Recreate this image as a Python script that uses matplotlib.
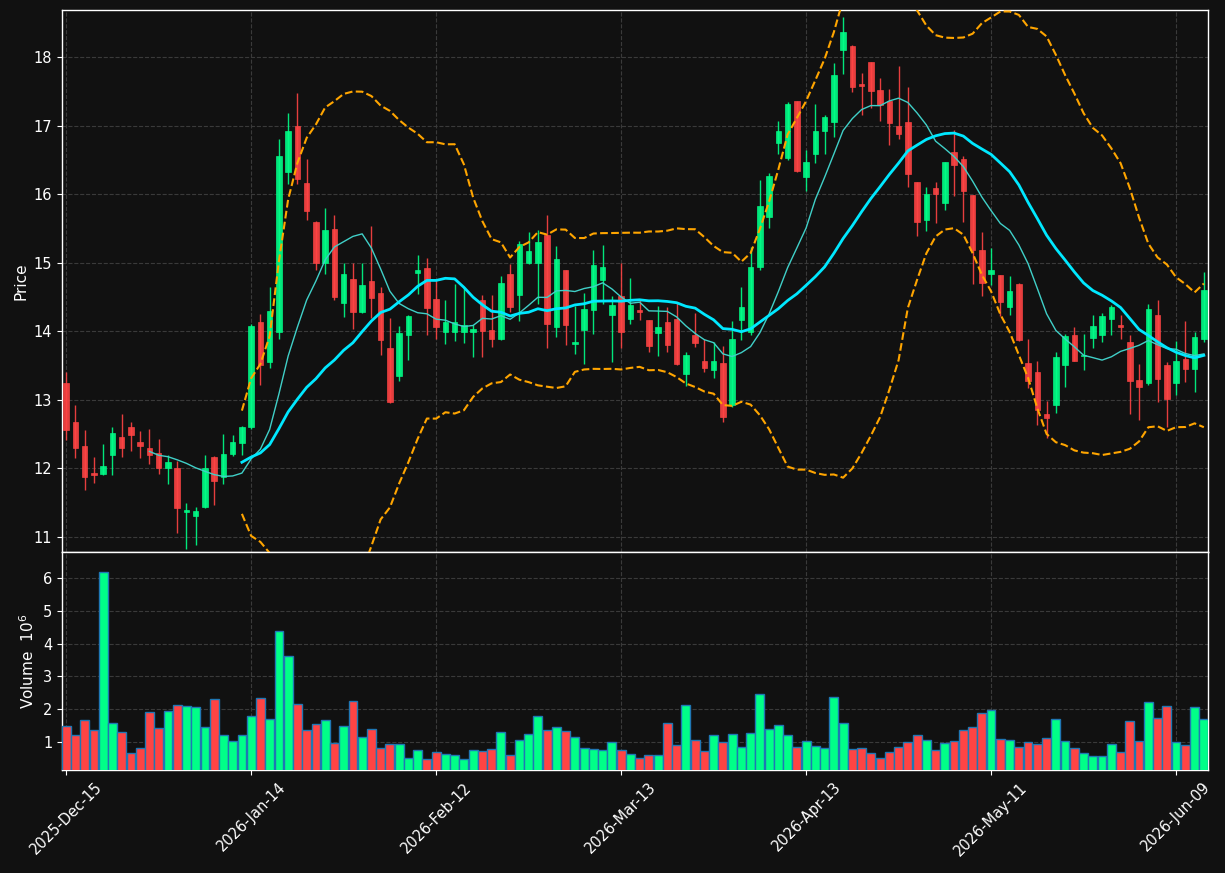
import numpy as np
import pandas as pd
import matplotlib
matplotlib.use("Agg")
import matplotlib.pyplot as plt
from matplotlib.patches import Rectangle

# ---------------- data ----------------
holidays = ["2025-12-25", "2026-01-01", "2026-01-19", "2026-02-16", "2026-04-03", "2026-05-25"]
dates = pd.bdate_range("2025-12-15", "2026-06-12", freq="C", holidays=holidays)

opens = [13.25, 12.67, 12.32, 11.93, 11.92, 12.19, 12.45, 12.61, 12.39, 12.29,
         12.23, 12.01, 12.01, 11.36, 11.30, 11.44, 12.17, 11.87, 12.21, 12.37,
         12.60, 14.13, 13.55, 13.99, 16.32, 17.00, 16.16, 15.60, 14.99, 15.49,
         14.41, 14.76, 14.28, 14.73, 14.56, 13.76, 13.35, 13.94, 14.85, 14.92,
         14.47, 13.99, 13.99, 13.99, 13.99, 14.46, 14.02, 13.88, 14.84, 14.53,
         14.99, 14.99, 15.41, 14.06, 14.89, 13.81, 14.02, 14.31, 14.75, 14.23,
         14.51, 14.18, 14.31, 14.16, 13.97, 14.13, 14.18, 13.37, 13.94, 13.57,
         13.43, 13.54, 12.92, 14.16, 13.99, 14.93, 15.66, 16.74, 16.53, 17.36,
         16.25, 16.59, 16.92, 17.05, 18.10, 18.16, 17.60, 17.92, 17.52, 17.36,
         16.99, 17.05, 16.17, 15.62, 16.09, 15.87, 16.61, 16.51, 15.98, 15.19,
         14.83, 14.82, 14.36, 14.69, 13.54, 13.41, 12.80, 12.92, 13.51, 13.95,
         13.64, 13.90, 13.94, 14.18, 14.09, 13.85, 13.29, 13.24, 14.24, 13.51,
         13.24, 13.59, 13.45, 13.88]
highs = [13.41, 12.92, 12.56, 12.17, 12.36, 12.60, 12.80, 12.68, 12.55, 12.58,
         12.43, 12.19, 12.11, 11.49, 11.43, 12.20, 12.18, 12.50, 12.48, 12.62,
         14.10, 14.25, 14.65, 16.80, 17.19, 17.48, 16.51, 15.61, 15.79, 15.70,
         14.99, 14.99, 14.99, 15.53, 14.65, 14.19, 14.08, 14.23, 15.11, 15.07,
         14.75, 14.45, 14.69, 14.64, 14.09, 14.53, 14.53, 14.81, 14.98, 15.32,
         15.45, 15.48, 15.70, 15.25, 14.89, 14.37, 14.56, 15.18, 15.26, 14.51,
         14.99, 14.78, 14.45, 14.17, 14.37, 14.36, 14.41, 13.70, 14.27, 13.89,
         13.84, 13.79, 14.15, 14.65, 15.23, 16.20, 16.31, 17.06, 17.35, 17.36,
         16.65, 17.32, 17.16, 17.91, 18.59, 18.18, 17.76, 17.93, 17.69, 17.53,
         17.87, 17.56, 16.17, 16.11, 16.18, 16.47, 16.93, 16.55, 15.98, 15.45,
         15.22, 14.82, 14.80, 14.70, 13.89, 13.56, 12.98, 13.70, 13.96, 14.06,
         13.96, 14.24, 14.27, 14.38, 14.23, 13.94, 13.52, 14.40, 14.46, 13.55,
         13.86, 14.15, 13.99, 14.87]
lows = [12.42, 12.15, 11.68, 11.78, 11.90, 11.91, 12.16, 12.25, 12.15, 12.06,
        11.92, 11.77, 11.06, 10.82, 10.88, 11.42, 11.47, 11.77, 12.18, 12.19,
        12.58, 13.22, 13.46, 13.89, 16.15, 16.15, 15.62, 14.90, 14.83, 14.46,
        14.21, 14.03, 14.27, 14.19, 13.66, 12.95, 13.27, 13.58, 14.55, 13.95,
        13.89, 13.81, 13.86, 13.83, 13.62, 13.62, 13.77, 13.87, 14.28, 14.15,
        14.98, 14.40, 13.75, 13.91, 13.80, 13.67, 13.52, 13.96, 14.40, 13.55,
        13.76, 14.10, 14.17, 13.69, 13.64, 13.69, 13.51, 13.20, 13.77, 13.41,
        13.32, 12.68, 12.90, 13.87, 13.94, 14.89, 15.51, 16.58, 16.49, 16.32,
        16.05, 16.46, 16.59, 16.84, 17.75, 17.49, 17.16, 17.26, 17.06, 16.72,
        16.81, 16.11, 15.39, 15.46, 15.58, 15.77, 15.97, 15.60, 14.69, 14.51,
        14.68, 14.22, 14.23, 13.86, 13.17, 12.63, 12.44, 12.81, 13.19, 13.56,
        13.43, 13.75, 13.85, 13.95, 13.89, 12.80, 12.70, 13.22, 12.97, 12.60,
        13.07, 13.26, 13.12, 13.84]
closes = [12.56, 12.30, 11.87, 11.91, 12.03, 12.51, 12.30, 12.48, 12.32, 12.19,
          12.00, 12.09, 11.42, 11.39, 11.38, 12.00, 11.82, 12.21, 12.39, 12.61,
          14.07, 13.51, 14.30, 16.55, 16.92, 16.22, 15.76, 14.99, 15.47, 14.50,
          14.84, 14.28, 14.67, 14.48, 13.87, 12.97, 13.98, 14.22, 14.89, 14.34,
          14.06, 14.13, 14.13, 14.09, 14.03, 14.01, 13.88, 14.71, 14.36, 15.27,
          15.17, 15.30, 14.11, 15.05, 14.09, 13.85, 14.32, 14.97, 14.93, 14.38,
          13.99, 14.38, 14.28, 13.78, 14.06, 13.80, 13.52, 13.66, 13.83, 13.46,
          13.56, 12.75, 13.89, 14.35, 14.94, 15.82, 16.27, 16.92, 17.31, 16.34,
          16.47, 16.92, 17.12, 17.74, 18.37, 17.56, 17.58, 17.50, 17.30, 17.03,
          16.87, 16.29, 15.59, 16.00, 16.00, 16.47, 16.42, 16.04, 15.18, 14.71,
          14.89, 14.42, 14.58, 13.87, 13.27, 12.85, 12.73, 13.62, 13.93, 13.57,
          13.66, 14.07, 14.22, 14.35, 14.06, 13.28, 13.19, 14.32, 13.31, 13.01,
          13.56, 13.45, 13.91, 14.60]
volumes = [1.48, 1.21, 1.67, 1.37, 6.18, 1.58, 1.31, 0.66, 0.82, 1.92,
           1.43, 1.95, 2.13, 2.10, 2.07, 1.46, 2.32, 1.21, 1.03, 1.21,
           1.80, 2.35, 1.71, 4.40, 3.61, 2.17, 1.37, 1.55, 1.67, 0.97,
           1.49, 2.26, 1.15, 1.40, 0.82, 0.94, 0.94, 0.51, 0.75, 0.48,
           0.69, 0.63, 0.60, 0.48, 0.75, 0.72, 0.79, 1.31, 0.60, 1.06,
           1.25, 1.80, 1.37, 1.46, 1.34, 1.15, 0.82, 0.79, 0.75, 1.00,
           0.75, 0.63, 0.51, 0.60, 0.60, 1.58, 0.91, 2.13, 1.06, 0.72,
           1.21, 1.00, 1.25, 0.85, 1.28, 2.47, 1.40, 1.52, 1.21, 0.85,
           1.03, 0.88, 0.82, 2.38, 1.58, 0.79, 0.82, 0.66, 0.51, 0.69,
           0.85, 1.00, 1.21, 1.06, 0.75, 0.97, 1.03, 1.37, 1.46, 1.89,
           1.98, 1.09, 1.06, 0.85, 1.00, 0.94, 1.12, 1.71, 1.03, 0.82,
           0.66, 0.57, 0.57, 0.94, 0.69, 1.64, 1.03, 2.23, 1.74, 2.10,
           1.00, 0.91, 2.07, 1.71]

# ---------------- style ----------------
BG = "#111111"
UP = "#00ff88"
DOWN = "#ff4444"
GRID = "#3a3a3a"

o = np.array(opens); h = np.array(highs); l = np.array(lows); c = np.array(closes)
v = np.array(volumes)
n = len(c)
x = np.arange(n)

close_s = pd.Series(c)
mav10 = close_s.rolling(10).mean()
mav20 = close_s.rolling(20).mean()
std20 = close_s.rolling(20).std()
upper = mav20 + 2 * std20
lower = mav20 - 2 * std20

fig = plt.figure(figsize=(12.25, 8.73), dpi=100, facecolor=BG)
ax = fig.add_axes([62 / 1225, 1 - 552 / 873, 1146 / 1225, 542 / 873])
axv = fig.add_axes([62 / 1225, 1 - 770 / 873, 1146 / 1225, 218 / 873], sharex=ax)

for a in (ax, axv):
    a.set_facecolor(BG)
    for s in a.spines.values():
        s.set_color("white")
        s.set_linewidth(1.0)
    a.tick_params(colors="white", labelsize=10.5)
    a.grid(True, color=GRID, linestyle="--", linewidth=0.8)
    a.set_axisbelow(True)

# candles
bw = 0.6
for i in range(n):
    col = UP if c[i] >= o[i] else DOWN
    ax.vlines(x[i], l[i], h[i], color=col, linewidth=1.0, alpha=0.9, zorder=2)
    bot = min(o[i], c[i])
    ht = max(abs(c[i] - o[i]), 0.01)
    ax.add_patch(Rectangle((x[i] - bw / 2, bot), bw, ht, facecolor=col,
                           edgecolor=col, linewidth=0.5, alpha=0.9, zorder=3))

ax.plot(x, mav10, color="#40d0c8", linewidth=1.0, zorder=4)
ax.plot(x, mav20, color="#00e8ff", linewidth=2.0, zorder=4)
ax.plot(x, upper, color="orange", linestyle="--", linewidth=1.5, zorder=4)
ax.plot(x, lower, color="orange", linestyle="--", linewidth=1.5, zorder=4)

ax.set_ylim(10.78, 18.685)
ax.set_xlim(-0.45, n - 1 + 0.45)
ax.set_yticks([11, 12, 13, 14, 15, 16, 17, 18])
ax.set_ylabel("Price", color="white", fontsize=11)
plt.setp(ax.get_xticklabels(), visible=False)
ax.tick_params(axis="x", length=0)

# volume
vcols = [UP if c[i] >= o[i] else DOWN for i in range(n)]
axv.bar(x, v, width=0.95, color=vcols, edgecolor="#1f77b4", linewidth=1.0, zorder=3)
axv.set_ylim(0.3 * v.min() + 0.0, 1.1 * v.max())
axv.set_yticks([1, 2, 3, 4, 5, 6])
axv.set_ylabel("Volume  $10^{6}$", color="white", fontsize=11)

tick_idx = list(range(0, n, 20))
axv.set_xticks(tick_idx)
axv.set_xticklabels([dates[i].strftime("%Y-%b-%d") for i in tick_idx],
                    rotation=45, ha="center")

fig.savefig("out.png", dpi=100, facecolor=BG)
